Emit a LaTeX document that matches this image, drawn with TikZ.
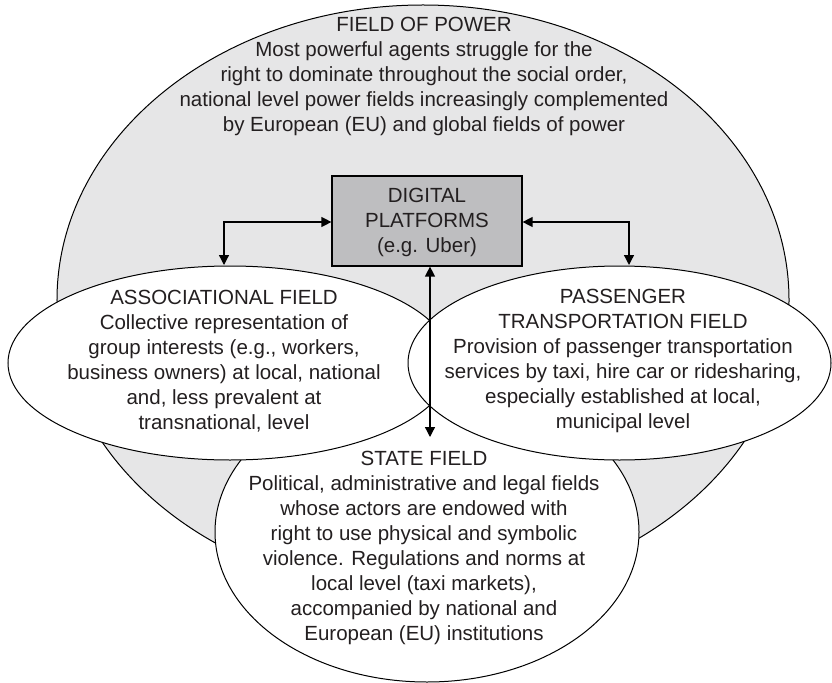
\documentclass[tikz,border=0pt]{standalone}
\usepackage{fontspec}
\setmainfont{Liberation Sans}
\usetikzlibrary{shapes.geometric,arrows.meta}
\definecolor{fieldgray}{HTML}{E6E6E7}
\definecolor{boxgray}{HTML}{BEBEC0}
\definecolor{inkgray}{HTML}{231F20}

\begin{document}
\begin{tikzpicture}[x=1bp,y=-1bp,
  field/.style={ellipse, draw=black, line width=1bp, fill=white, inner sep=0pt},
  fieldtext/.style={align=center, text=inkgray, inner sep=0pt,
    font=\fontsize{20.5bp}{25bp}\selectfont},
  link/.style={line width=1.3bp,
    {Triangle[length=10bp,width=10bp]}-{Triangle[length=10bp,width=10bp]}}]
\useasboundingbox (0,0) rectangle (832,683);

% fields
\node[field, fill=fieldgray, minimum width=732bp, minimum height=590bp] (power) at (423,300) {};
\node[field, minimum width=424bp, minimum height=300bp] (state) at (427,532) {};
\node[field, minimum width=444bp, minimum height=194bp] (assoc) at (230,363) {};
\node[field, minimum width=423bp, minimum height=194bp] (pass) at (619.5,363) {};

% platform box
\node[draw=black, line width=1.2bp, fill=boxgray, minimum width=190bp,
  minimum height=90bp, inner sep=0pt] (dp) at (427,221) {};

% arrow end points
\coordinate (aTop) at (224,265);
\coordinate (pTop) at (629,265);
\coordinate (sTop) at (430,437);

\draw[link] (dp.west |- 0,222) -| (aTop);
\draw[link] (dp.east |- 0,222) -| (pTop);
\draw[link] (sTop |- dp.south) -- (sTop);

% texts
\node[fieldtext] (powerText) at (424,76) {FIELD OF POWER\\
  Most powerful agents struggle for the\\
  right to dominate throughout the social order,\\
  national level power fields increasingly complemented\\
  by European (EU) and global fields of power};
\node[fieldtext] (dpText) at (427,222) {DIGITAL\\PLATFORMS\\(e.g. Uber)};
\node[fieldtext] (assocText) at (224,361) {ASSOCIATIONAL FIELD\\
  Collective representation of\\
  group interests (e.g., workers,\\
  business owners) at local, national\\
  and, less prevalent at\\
  transnational, level};
\node[fieldtext] (passText) at (623,361) {PASSENGER\\
  TRANSPORTATION FIELD\\
  Provision of passenger transportation\\
  services by taxi, hire car or ridesharing,\\
  especially established at local,\\
  municipal level};
\node[fieldtext] (stateText) at (424,548) {STATE FIELD\\
  Political, administrative and legal fields\\
  whose actors are endowed with\\
  right to use physical and symbolic\\
  violence. Regulations and norms at\\
  local level (taxi markets),\\
  accompanied by national and\\
  European (EU) institutions};
\end{tikzpicture}
\end{document}
